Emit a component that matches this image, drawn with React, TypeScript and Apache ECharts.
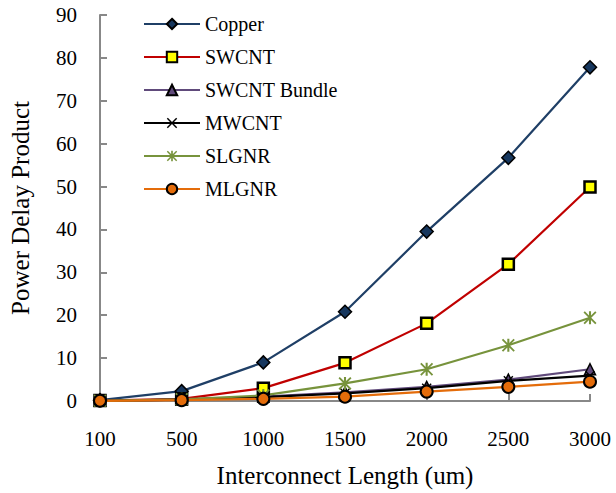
import React, { useEffect, useRef } from "react";
import * as echarts from "echarts";

const categories = ["100", "500", "1000", "1500", "2000", "2500", "3000"];
const copper = [0.2, 2.3, 9.0, 20.8, 39.5, 56.7, 77.8];
const swcnt = [0.1, 0.5, 3.0, 8.9, 18.1, 31.9, 49.9];
const swcntBundle = [0.05, 0.3, 1.0, 2.0, 3.3, 5.0, 7.4];
const mwcnt = [0.05, 0.3, 0.9, 1.8, 3.0, 4.7, 5.9];
const slgnr = [0.05, 0.4, 1.3, 4.1, 7.4, 13.0, 19.4];
const mlgnr = [0.05, 0.2, 0.5, 1.0, 2.2, 3.3, 4.5];

const FONT = "'Liberation Serif', 'Times New Roman', serif";
const AXIS_COLOR = "#888888";

const X_PATH =
  "path://M1,0 L5,4 L9,0 L10,1 L6,5 L10,9 L9,10 L5,6 L1,10 L0,9 L4,5 L0,1 Z";
const STAR_PATH =
  "path://M1,0 L5,4 L9,0 L10,1 L6,5 L10,9 L9,10 L5,6 L1,10 L0,9 L4,5 L0,1 Z M4.2,0 L5.8,0 L5.8,10 L4.2,10 Z";

export default function App() {
  const ref = useRef<HTMLDivElement>(null);
  useEffect(() => {
    if (!ref.current) return;
    const chart = echarts.init(ref.current, undefined, { renderer: "svg" });
    const mk = (
      name: string,
      data: number[],
      color: string,
      symbol: string,
      symbolSize: number,
      fill: string,
      border: string,
      borderWidth: number
    ) => ({
      name,
      type: "line",
      data,
      symbol,
      symbolSize,
      showAllSymbol: true,
      lineStyle: { color, width: 2.2 },
      itemStyle: { color: fill, borderColor: border, borderWidth },
      color,
    });
    chart.setOption({
      animation: false,
      backgroundColor: "#ffffff",
      grid: { left: 100, right: 26, top: 15, bottom: 90, containLabel: false },
      legend: {
        orient: "vertical",
        left: 138,
        top: 9,
        itemWidth: 56,
        itemHeight: 13,
        itemGap: 13,
        textStyle: {
          fontFamily: FONT,
          fontSize: 20,
          color: "#000",
          lineHeight: 20,
        },
        data: ["Copper", "SWCNT", "SWCNT Bundle", "MWCNT", "SLGNR", "MLGNR"],
      },
      xAxis: {
        type: "category",
        data: categories,
        boundaryGap: false,
        name: "Interconnect Length (um)",
        nameLocation: "middle",
        nameGap: 62,
        nameTextStyle: { fontFamily: FONT, fontSize: 25, color: "#000" },
        axisLine: { lineStyle: { color: AXIS_COLOR, width: 2 } },
        axisTick: { inside: true, length: 7, lineStyle: { color: AXIS_COLOR, width: 2 } },
        axisLabel: { fontFamily: FONT, fontSize: 21, color: "#000", margin: 27 },
        splitLine: { show: false },
      },
      yAxis: {
        type: "value",
        min: 0,
        max: 90,
        interval: 10,
        name: "Power Delay Product",
        nameLocation: "middle",
        nameGap: 67,
        nameTextStyle: { fontFamily: FONT, fontSize: 25, color: "#000" },
        axisLine: { show: true, lineStyle: { color: AXIS_COLOR, width: 2 } },
        axisTick: { show: true, inside: true, length: 7, lineStyle: { color: AXIS_COLOR, width: 2 } },
        axisLabel: { fontFamily: FONT, fontSize: 21, color: "#000", margin: 23 },
        splitLine: { show: false },
      },
      series: [
        mk("Copper", copper, "#1F3F66", "diamond", 13, "#17375E", "#000", 1.5),
        mk("SWCNT", swcnt, "#C00000", "rect", 11, "#FFFF00", "#000", 2.5),
        mk("SWCNT Bundle", swcntBundle, "#604A7B", "triangle", 11, "#604A7B", "#000", 1.5),
        mk("MWCNT", mwcnt, "#000000", X_PATH, 10, "#000000", "#000", 0),
        mk("SLGNR", slgnr, "#77933C", STAR_PATH, 13, "#77933C", "#77933C", 0),
        mk("MLGNR", mlgnr, "#E46C0A", "circle", 12, "#E46C0A", "#000", 2),
      ],
    });
    return () => chart.dispose();
  }, []);
  return (
    <div
      ref={ref}
      style={{ position: "absolute", left: 0, top: 0, width: 616, height: 493 }}
    />
  );
}
